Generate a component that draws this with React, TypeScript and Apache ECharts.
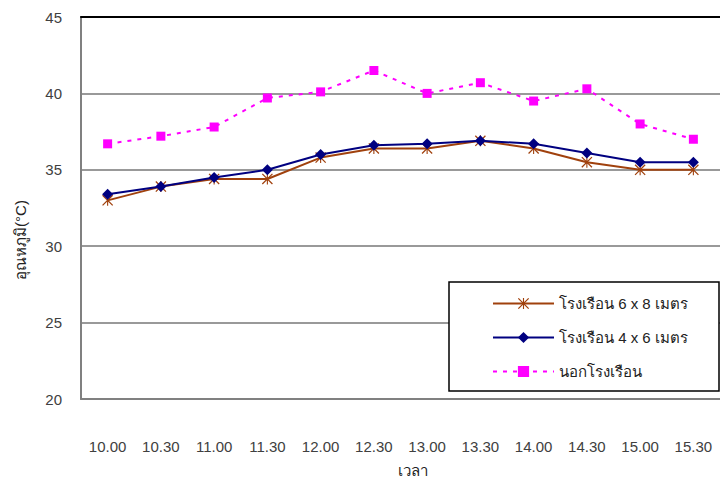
import React, { useEffect, useRef } from "react";
import * as echarts from "echarts";

const categories = ["10.00", "10.30", "11.00", "11.30", "12.00", "12.30", "13.00", "13.30", "14.00", "14.30", "15.00", "15.30"];
const house6x8 = [33.0, 33.9, 34.4, 34.4, 35.8, 36.4, 36.4, 36.9, 36.4, 35.5, 35.0, 35.0];
const house4x6 = [33.4, 33.9, 34.5, 35.0, 36.0, 36.6, 36.7, 36.9, 36.7, 36.1, 35.5, 35.5];
const outside = [36.7, 37.2, 37.8, 39.7, 40.1, 41.5, 40.0, 40.7, 39.5, 40.3, 38.0, 37.0];
const seriesNames = ["โรงเรือน 6 x 8 เมตร", "โรงเรือน 4 x 6 เมตร", "นอกโรงเรือน"];
const yTicks = { min: 20, max: 45, interval: 5 };

const FONT = "'Liberation Sans', Arial, 'Noto Sans', sans-serif";
const asterisk =
  "path://M45,0 L55,0 L55,100 L45,100 Z M0,8 L8,0 L100,92 L92,100 Z M92,0 L100,8 L8,100 L0,92 Z";

export default function App() {
  const ref = useRef<HTMLDivElement>(null);
  useEffect(() => {
    document.body.style.margin = "0";
    const chart = echarts.init(ref.current!, null, { renderer: "svg" });
    chart.setOption({
      animation: false,
      backgroundColor: "#ffffff",
      textStyle: { fontFamily: FONT },
      grid: { left: 81, top: 17, width: 642, height: 382, show: false },
      xAxis: [
        {
          type: "category",
          data: categories,
          boundaryGap: true,
          axisLine: { lineStyle: { color: "#808080", width: 2 } },
          axisTick: { show: false },
          axisLabel: { color: "#404040", fontSize: 15, margin: 40, fontFamily: FONT },
          splitLine: { show: false },
        },
        {
          type: "category",
          data: categories,
          position: "top",
          axisLine: { lineStyle: { color: "#000000", width: 2 } },
          axisTick: { show: false },
          axisLabel: { show: false },
        },
      ],
      yAxis: {
        type: "value",
        min: yTicks.min,
        max: yTicks.max,
        interval: yTicks.interval,
        axisLine: { show: true, lineStyle: { color: "#808080", width: 2 } },
        axisTick: { show: false },
        axisLabel: { color: "#404040", fontSize: 15, margin: 19, fontFamily: FONT },
        splitLine: { lineStyle: { color: "#999999", width: 2 } },
      },
      legend: {
        orient: "vertical",
        left: 492,
        top: 296,
        itemWidth: 61,
        itemHeight: 14,
        itemGap: 19,
        padding: 0,
        z: 10,
        textStyle: { color: "#222222", fontSize: 15, fontFamily: FONT },
        data: seriesNames,
      },
      graphic: [
        {
          type: "rect",
          shape: { x: 449, y: 282, width: 270, height: 109 },
          style: { fill: "#ffffff", stroke: "#000000", lineWidth: 1.5 },
          z: 3,
        },
        {
          type: "text",
          x: 413,
          y: 470,
          style: {
            text: "เวลา",
            fill: "#222222",
            fontSize: 15,
            fontFamily: FONT,
            align: "center",
            verticalAlign: "middle",
          },
        },
        {
          type: "text",
          x: 20,
          y: 240,
          rotation: Math.PI / 2,
          style: {
            text: "อุณหภูมิ(°C)",
            fill: "#222222",
            fontSize: 15,
            fontFamily: FONT,
            align: "center",
            verticalAlign: "middle",
          },
        },
      ],
      series: [
        {
          name: seriesNames[0],
          type: "line",
          data: house6x8,
          symbol: asterisk,
          symbolSize: 11,
          lineStyle: { color: "#a0410d", width: 2 },
          itemStyle: { color: "#a0410d" },
          z: 3,
        },
        {
          name: seriesNames[1],
          type: "line",
          data: house4x6,
          symbol: "diamond",
          symbolSize: 11,
          lineStyle: { color: "#000080", width: 2 },
          itemStyle: { color: "#000080" },
          z: 4,
        },
        {
          name: seriesNames[2],
          type: "line",
          data: outside,
          symbol: "rect",
          symbolSize: 9,
          lineStyle: { color: "#ff00ff", width: 2, type: [4, 6] },
          itemStyle: { color: "#ff00ff" },
          z: 4,
        },
      ],
    });
    return () => chart.dispose();
  }, []);
  return <div ref={ref} style={{ width: 720, height: 483 }} />;
}
